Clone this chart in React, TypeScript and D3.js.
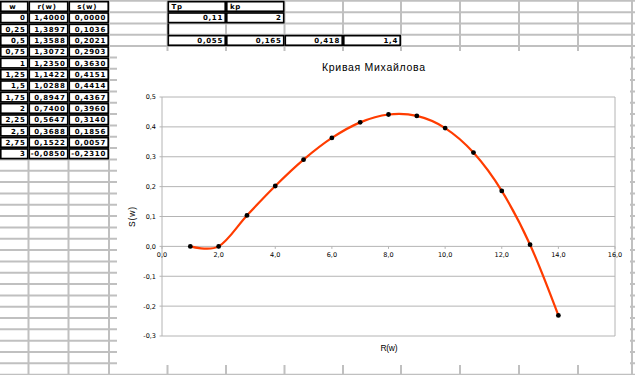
import React from "react";
import * as d3 from "d3";

// ---- spreadsheet data ----
const headers = ["w", "r(w)", "s(w)"];
const wLabels = ["0", "0,25", "0,5", "0,75", "1", "1,25", "1,5", "1,75", "2", "2,25", "2,5", "2,75", "3"];
const rValues = [1.4, 1.3897, 1.3588, 1.3072, 1.235, 1.1422, 1.0288, 0.8947, 0.74, 0.5647, 0.3688, 0.1522, -0.085];
const sValues = [0.0, 0.1036, 0.2021, 0.2903, 0.363, 0.4151, 0.4414, 0.4367, 0.396, 0.314, 0.1856, 0.0057, -0.231];
const paramHeaders = ["Tp", "kp"];
const paramValues = ["0,11", "2"];
const coefValues = ["0,055", "0,165", "0,418", "1,4"];

// ---- chart data ----
const chartX = [1, 2, 3, 4, 5, 6, 7, 8, 9, 10, 11, 12, 13, 14];
const chartY = [0, 0.0, 0.1036, 0.2021, 0.2903, 0.363, 0.4151, 0.4414, 0.4367, 0.396, 0.314, 0.1856, 0.0057, -0.231];
const xTicks = [0, 2, 4, 6, 8, 10, 12, 14, 16];
const yTicks = [-0.3, -0.2, -0.1, 0, 0.1, 0.2, 0.3, 0.4, 0.5];
const chartTitle = "Кривая Михайлова";
const xTitle = "R(w)";
const yTitle = "S(w)";

const colLines = [0, 28.5, 68.5, 109, 167.5, 226, 284.5, 343, 401, 460, 519, 578, 632, 691];
const rowY = (k: number) => 0.8 + 11.33 * k;

const fmt4 = (v: number) => v.toFixed(4).replace(".", ",");
const fmt1 = (v: number) => (Math.abs(v) < 1e-9 ? 0 : v).toFixed(1).replace(".", ",");

const cellFont = { fontFamily: "DejaVu Sans", fontWeight: 700, fontSize: 7, letterSpacing: 0.7 } as const;

function Cell({ c, r, text, align }: { c: number; r: number; text?: string; align?: "start" | "end" | "middle" }) {
  const x0 = colLines[c];
  const x1 = colLines[c + 1];
  const y0 = rowY(r);
  const y1 = rowY(r + 1);
  const tx = align === "start" ? x0 + 4 : align === "middle" ? (x0 + x1) / 2 - 1.5 : x1 - 3;
  return (
    <g>
      <rect x={x0} y={y0} width={x1 - x0} height={y1 - y0} fill="#000" />
      <rect x={x0 + 1.6} y={y0 + 1.7} width={x1 - x0 - 3.2} height={y1 - y0 - 3.4} fill="#fff" />
      {text !== undefined && (
        <text
          x={tx}
          y={(y0 + y1) / 2 + 2.6}
          textAnchor={align ?? "end"}
          style={cellFont}
          fill="#000"
        >
          {text}
        </text>
      )}
    </g>
  );
}

export default function App() {
  const W = 635;
  const H = 375;

  const x = d3.scaleLinear().domain([0, 16]).range([162, 615]);
  const y = d3.scaleLinear().domain([-0.3, 0.5]).range([336, 97]);

  const pts: [number, number][] = chartX.map((v, i) => [v, chartY[i]]);
  const line = d3
    .line<[number, number]>()
    .x((d) => x(d[0]))
    .y((d) => y(d[1]))
    .curve(d3.curveCardinal.tension(0));

  const rows = d3.range(0, 34);
  const gridColor = "#c0c0c0";

  return (
    <svg
      width={W}
      height={H}
      viewBox={`0 0 ${W} ${H}`}
      style={{ position: "fixed", left: 0, top: 0, background: "#fff" }}
    >
      <rect x={0} y={0} width={W} height={H} fill="#fff" />
      {/* spreadsheet grid */}
      {rows.map((k) => (
        <line key={"r" + k} x1={0} x2={W} y1={rowY(k)} y2={rowY(k)} stroke={gridColor} strokeWidth={2} />
      ))}
      {colLines.slice(1).map((cx, i) => (
        <line key={"c" + i} x1={cx} x2={cx} y1={0} y2={H} stroke={gridColor} strokeWidth={2} />
      ))}

      {/* main table */}
      {headers.map((h, c) => (
        <Cell key={"h" + c} c={c} r={0} text={h} align="middle" />
      ))}
      {wLabels.map((w, i) => (
        <g key={"row" + i}>
          <Cell c={0} r={i + 1} text={w} />
          <Cell c={1} r={i + 1} text={fmt4(rValues[i])} />
          <Cell c={2} r={i + 1} text={fmt4(sValues[i])} />
        </g>
      ))}

      {/* parameter cells */}
      {paramHeaders.map((h, i) => (
        <Cell key={"ph" + i} c={4 + i} r={0} text={h} align="start" />
      ))}
      {paramValues.map((v, i) => (
        <Cell key={"pv" + i} c={4 + i} r={1} text={v} />
      ))}
      <line x1={colLines[4] + 0.8} x2={colLines[4] + 0.8} y1={rowY(2)} y2={rowY(3)} stroke="#000" strokeWidth={1.8} />
      {coefValues.map((v, i) => (
        <Cell key={"cv" + i} c={4 + i} r={3} text={v} />
      ))}

      {/* chart object */}
      <rect x={117} y={51} width={513} height={314} fill="#fff" />

      {/* gridlines */}
      {yTicks.map((t) => (
        <g key={"yt" + t}>
          <line x1={x(0)} x2={x(16)} y1={y(t)} y2={y(t)} stroke="#b4b4b4" strokeWidth={1} />
          <line x1={x(0) - 2.5} x2={x(0)} y1={y(t)} y2={y(t)} stroke="#b4b4b4" strokeWidth={1} />
          <text
            x={156}
            y={y(t) + 2.4}
            textAnchor="end"
            style={{ fontFamily: "DejaVu Sans", fontSize: 6.5 }}
            fill="#000"
          >
            {fmt1(t)}
          </text>
        </g>
      ))}
      <line x1={x(0)} x2={x(0)} y1={y(0.5)} y2={y(-0.3)} stroke="#b4b4b4" strokeWidth={1} />
      <line x1={x(16)} x2={x(16)} y1={y(0.5)} y2={y(-0.3)} stroke="#b4b4b4" strokeWidth={1} />
      {xTicks.map((t) => (
        <g key={"xt" + t}>
          <line x1={x(t)} x2={x(t)} y1={y(0)} y2={y(0) + 2.5} stroke="#b4b4b4" strokeWidth={1} />
          <text
            x={x(t)}
            y={y(0) + 11}
            textAnchor="middle"
            style={{ fontFamily: "DejaVu Sans", fontSize: 6.5 }}
            fill="#000"
          >
            {fmt1(t)}
          </text>
        </g>
      ))}

      {/* series */}
      <path d={line(pts) ?? ""} fill="none" stroke="#ff3c00" strokeWidth={2.2} strokeLinejoin="round" />
      {pts.map((p, i) => (
        <circle key={"p" + i} cx={x(p[0])} cy={y(p[1])} r={2.4} fill="#000" />
      ))}

      {/* titles */}
      <text
        x={373.5}
        y={70.7}
        textAnchor="middle"
        textLength={103}
        lengthAdjust="spacing"
        style={{ fontFamily: "Liberation Sans", fontSize: 10.5 }}
        fill="#000"
      >
        {chartTitle}
      </text>
      <text
        x={389}
        y={351}
        textAnchor="middle"
        textLength={17}
        lengthAdjust="spacing"
        style={{ fontFamily: "Liberation Sans", fontSize: 8.5 }}
        fill="#000"
      >
        {xTitle}
      </text>
      <text
        transform={`translate(135,217) rotate(-90)`}
        textAnchor="middle"
        textLength={20}
        lengthAdjust="spacing"
        style={{ fontFamily: "Liberation Sans", fontSize: 8.5 }}
        fill="#000"
      >
        {yTitle}
      </text>
    </svg>
  );
}
